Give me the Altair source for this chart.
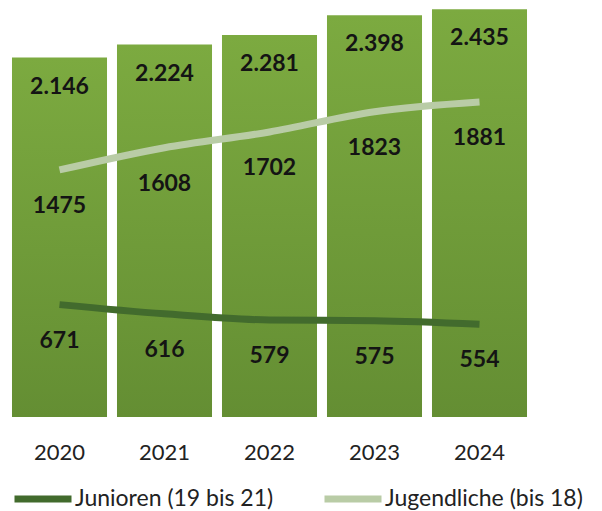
import altair as alt
import pandas as pd

years = ["2020", "2021", "2022", "2023", "2024"]
gesamt = [2146, 2224, 2281, 2398, 2435]
jugendliche = [1475, 1608, 1702, 1823, 1881]
junioren = [671, 616, 579, 575, 554]
series_names = ["Junioren (19 bis 21)", "Jugendliche (bis 18)"]
series_colors = ["#426b2d", "#b9cca6"]

bars_df = pd.DataFrame({"Jahr": years, "Gesamt": gesamt})
lines_df = pd.DataFrame({
    "Jahr": years * 2,
    "Wert": junioren + jugendliche,
    "Serie": [series_names[0]] * len(years) + [series_names[1]] * len(years),
})

FONT = "Lato"
gradient = alt.Gradient(
    gradient="linear",
    stops=[alt.GradientStop(color="#7caa40", offset=0),
           alt.GradientStop(color="#648e33", offset=1)],
    x1=0, x2=0, y1=0, y2=1,
)

x = alt.X(
    "Jahr:N",
    sort=years,
    scale=alt.Scale(paddingInner=0.095, paddingOuter=0.038),
    axis=alt.Axis(title=None, labelAngle=0, domain=False, ticks=False,
                  labelPadding=35, labelBaseline="middle", labelFont=FONT,
                  labelFontSize=22, labelColor="#222222", grid=False),
)
yscale = alt.Scale(domain=[0, 2442], nice=False, zero=True)

bars = alt.Chart(bars_df).mark_bar(color=gradient).encode(
    x=x, y=alt.Y("Gesamt:Q", scale=yscale, axis=None)
)
bar_labels = alt.Chart(bars_df).transform_calculate(
    label="replace(format(datum.Gesamt, ','), ',', '.')"
).mark_text(dy=29, font=FONT, fontWeight="bold", fontSize=23, color="#141414").encode(
    x=x, y=alt.Y("Gesamt:Q", scale=yscale, axis=None), text="label:N"
)

lines = alt.Chart(lines_df).mark_line(interpolate="monotone", strokeWidth=7).encode(
    x=x,
    y=alt.Y("Wert:Q", scale=yscale, axis=None),
    color=alt.Color(
        "Serie:N",
        scale=alt.Scale(domain=series_names, range=series_colors),
        legend=alt.Legend(
            title=None, orient="none", legendX=3, legendY=459,
            direction="horizontal", symbolType="stroke", symbolSize=3249,
            symbolStrokeWidth=7, labelFont=FONT, labelFontSize=23,
            labelColor="#222222", columnPadding=36, labelOffset=0,
            labelLimit=400,
        ),
    ),
)
line_labels = alt.Chart(lines_df).mark_text(
    dy=36, font=FONT, fontWeight="bold", fontSize=23, color="#141414"
).encode(
    x=x,
    y=alt.Y("Wert:Q", scale=yscale, axis=None),
    text=alt.Text("Wert:Q", format="d"),
)

chart = alt.layer(bars, bar_labels, lines, line_labels).properties(
    width=523, height=409, padding=0
).configure_view(stroke=None)

chart.save("out.html", embed_options={"renderer": "svg", "actions": False})
